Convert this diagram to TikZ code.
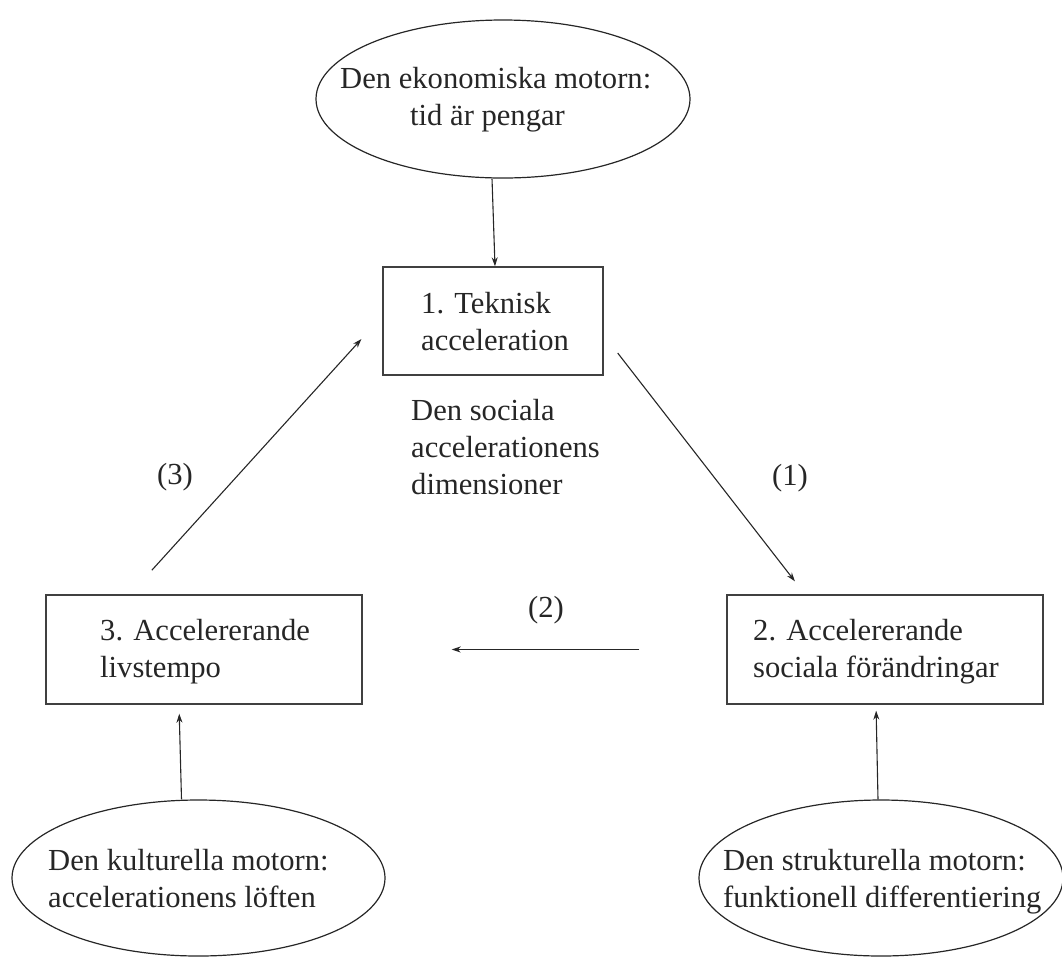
\documentclass[tikz,border=0pt]{standalone}
\usepackage{fontspec}
\setmainfont{Liberation Serif}
\usetikzlibrary{shapes.geometric,arrows.meta,calc}
\newcommand{\mylines}[1]{\begin{tabular}[t]{@{}l@{}}#1\end{tabular}}
\begin{document}
\begin{tikzpicture}[x=1pt,y=-1pt,
  txt/.style={font=\fontsize{30.6}{37}\selectfont, text=black!85, inner sep=0pt, anchor=base west},
  boxst/.style={draw=black!75, line width=1.4pt, minimum width=#1, minimum height=109pt, inner sep=0pt},
  ell/.style={ellipse, draw=black!85, line width=1.2pt, inner sep=0pt},
  arr/.style={draw=black!85, line width=1.1pt, -{Stealth[length=9pt,width=6pt]}}]
\useasboundingbox (0,0) rectangle (1062,962);

% ellipses
\node (e1) [ell, minimum width=374pt, minimum height=158pt] at (503,99) {};
\node (e2) [ell, minimum width=373pt, minimum height=156pt] at (198.5,878) {};
\node (e3) [ell, minimum width=364pt, minimum height=156pt] at (881,878) {};

% boxes
\node (b1) [boxst=220pt, minimum height=108pt] at (493,321) {};
\node (b3) [boxst=316pt] at (204,649.5) {};
\node (b2) [boxst=316pt] at (885,649.5) {};

% texts
\node (t1a) [txt] at (340,88) {Den ekonomiska motorn:};
\node (t1b) [txt] at (410,125) {tid är pengar};
\node (tb1) [txt] at (421,313) {\mylines{1. Teknisk\\acceleration}};
\node (tb3) [txt] at (100,640) {\mylines{3. Accelererande\\livstempo}};
\node (tb2) [txt] at (753,640) {\mylines{2. Accelererande\\sociala förändringar}};
\node (te2) [txt] at (48,870) {\mylines{Den kulturella motorn:\\accelerationens löften}};
\node (te3) [txt] at (723,870) {\mylines{Den strukturella motorn:\\funktionell differentiering}};
\node (tmid) [txt] at (411,420) {\mylines{Den sociala\\accelerationens\\dimensioner}};

% labels
\node (l1) [txt, anchor=center] at (790,478) {(1)};
\node (l2) [txt, anchor=center] at (546,610) {(2)};
\node (l3) [txt, anchor=center] at (175,477) {(3)};

% connectors
\draw[arr] ($(e1.south)+(-11,0)$) -- ($(b1.north)+(2,0)$);
\draw[arr, shorten <=22.8pt, shorten >=16.4pt] ($(b1.east)+(0,14)$) -- ($(b2.north)+(-80,0)$);
\draw[arr, shorten <=87pt, shorten >=89pt] (b2.west) -- (b3.east);
\draw[arr, shorten <=32.6pt, shorten >=31.1pt] ($(b3.north)+(-74,0)$) -- ($(b1.west)+(0,-5)$);
\draw[arr, shorten >=9pt] ($(e2.north)+(-17,0)$) -- ($(b3.south)+(-25,0)$);
\draw[arr, shorten >=6pt] ($(e3.north)+(-3,0)$) -- ($(b2.south)+(-9,0)$);
\end{tikzpicture}
\end{document}
